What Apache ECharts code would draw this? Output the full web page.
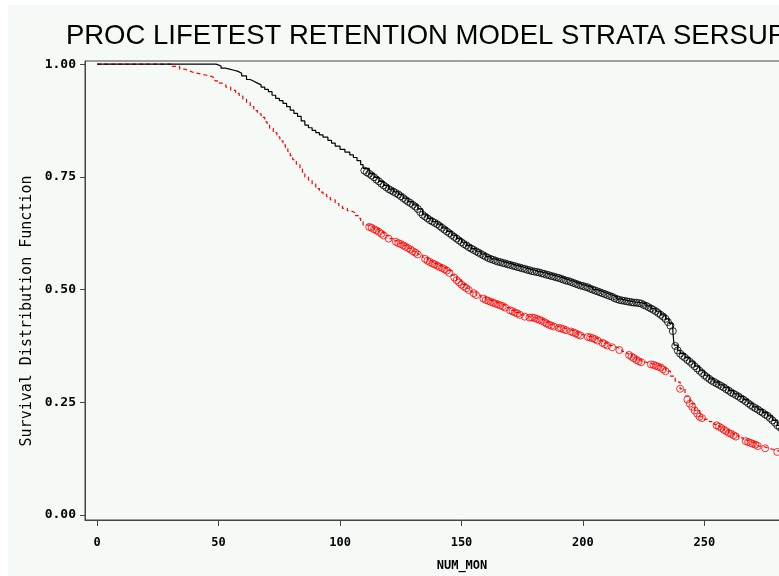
<!DOCTYPE html>
<html>
<head>
<meta charset="utf-8">
<script src="https://cdn.jsdelivr.net/npm/echarts@6/dist/echarts.min.js"></script>
<style>
html,body{margin:0;padding:0;background:#ffffff;overflow:hidden;width:779px;height:576px;}
#chart{position:absolute;left:8px;top:5px;width:860px;height:571px;}
</style>
</head>
<body>
<div id="chart"></div>
<script>
// ---- data (months, survival) ----
const titleText = 'PROC LIFETEST RETENTION MODEL STRATA SERSUP';
const xName = 'NUM_MON';
const yName = 'Survival Distribution Function';
const xTicks = [0, 50, 100, 150, 200, 250, 300];
const yTicks = [0, 0.25, 0.5, 0.75, 1];

// stratum 1 (black) step curve
const blackSteps = [
[0,1],[47,1],[49,.996],[51,.991],[53,.989],[54.5,.987],[56,.984],[58,.980],[59.5,.974],[61.5,.966],[63,.962],
[64.5,.958],[66,.954],[67.5,.949],[69,.944],[70.5,.939],[72,.931],[73.5,.924],[75,.919],[76.5,.913],[78,.906],
[79.5,.898],[81,.891],[82.5,.884],[84,.874],[85.5,.865],[87,.859],[88.5,.853],[90,.848],[91.5,.843],[93,.838],
[95,.831],[96.5,.825],[98,.818],[100,.811],[102,.805],[104,.799],[105.5,.793],[107,.786],[108.5,.777],[109.5,.769],
[112,.757],[114,.749],[116,.740],[118,.731],[120,.723],[122,.717],[124,.711],
[126,.703],[128,.695],[130,.688],[132,.679],[134,.666],[136,.658],[138,.651],[140,.645],[142,.637],
[144,.629],[146,.621],[148,.613],[150,.605],[152,.598],[154,.591],[156,.585],[158,.579],[160,.573],
[162,.568],[164,.564],[166,.561],[168,.558],[170,.555],[172,.552],[174,.549],[176,.546],[178,.543],
[180,.540],[182,.538],[184,.535],[186,.532],[188,.529],[190,.526],[192,.522],[194,.519],[196,.515],
[198,.511],[200,.508],[202,.505],[204,.500],[206,.496],[208,.492],[210,.488],[212,.484],[214,.479],
[216,.476],[218,.474],[220,.472],[222,.471],[224,.469],[226,.464],[228,.458],[230,.452],[232,.444],
[234,.435],[235.5,.425],[237,.408],[237.5,.377],[239,.365],[240,.358],[242,.349],[244,.340],[246,.330],
[248,.320],[250,.310],[252,.302],[254,.295],[256,.289],[258,.283],[260,.276],[262,.269],[264,.263],
[266,.256],[268,.248],[270,.240],[272,.234],[274,.227],[276,.220],[278,.210],[280,.199],[282,.190]
];
// stratum 1 (black) censored observations
const blackCensored = [
[110,.764],[111,.760],[112,.757],[113,.753],[114,.749],[115,.744],[116,.740],[117,.735],[118,.731],[119,.727],
[120,.723],[121,.720],[122,.717],[123,.714],[124,.711],[125,.707],[126,.703],[127,.699],[128,.695],[129,.692],
[130,.688],[131,.684],[132,.679],[133,.672],[134,.666],[135,.662],[136,.658],[137,.654],[138,.651],[139,.648],
[140,.645],[141,.641],[142,.637],[143,.633],[144,.629],[145,.625],[146,.621],[147,.617],[148,.613],[149,.609],
[150,.605],[151,.601],[152,.598],[153,.594],[154,.591],[155,.588],[156,.585],[157,.582],[158,.579],[159,.576],
[160,.573],[161,.570],[162,.568],[163,.566],[164,.564],[165,.562],[166,.561],[167,.559],[168,.558],[169,.556],
[170,.555],[171,.553],[172,.552],[173,.550],[174,.549],[175,.547],[176,.546],[177,.544],[178,.543],[179,.541],
[180,.540],[181,.539],[182,.538],[183,.536],[184,.535],[185,.533],[186,.532],[187,.530],[188,.529],[189,.527],
[190,.526],[191,.524],[192,.522],[193,.520],[194,.519],[195,.517],[196,.515],[197,.513],[198,.511],[199,.509],
[200,.508],[201,.506],[202,.505],[203,.502],[204,.500],[205,.498],[206,.496],[207,.494],[208,.492],[209,.490],
[210,.488],[211,.486],[212,.484],[213,.481],[214,.479],[215,.477],[216,.476],[217,.475],[218,.474],[219,.473],
[220,.472],[221,.471],[222,.471],[223,.470],[224,.469],[225,.466],[226,.464],[227,.461],[228,.458],[229,.455],
[230,.452],[231,.448],[232,.444],[233,.440],[234,.435],[235,.428],[236,.420],[237,.408],[238,.375],[239,.365],
[240,.358],[241,.353],[242,.349],[243,.344],[244,.340],[245,.335],[246,.330],[247,.325],[248,.320],[249,.315],
[250,.310],[251,.306],[252,.302],[253,.298],[254,.295],[255,.292],[256,.289],[257,.286],[258,.283],[259,.279],
[260,.276],[261,.272],[262,.269],[263,.266],[264,.263],[265,.259],[266,.256],[267,.252],[268,.248],[269,.244],
[270,.240],[271,.237],[272,.234],[273,.230],[274,.227],[275,.223],[276,.220],[277,.215],[278,.210],[279,.205],
[280,.199],[281,.195],[282,.190]
];

// stratum 2 (red) step curve
const redSteps = [
[0,1],[29,1],[31,.995],[34,.989],[36,.985],[38,.981],[40,.979],[42,.976],[44.5,.973],[47,.969],[48.5,.963],
[50,.958],[51.5,.954],[53,.949],[55,.942],[57,.935],[58.5,.929],[60,.922],[61.5,.915],[63,.906],[64.5,.897],
[66,.890],[67.5,.882],[69,.872],[70,.865],[71,.858],[72.5,.848],[74,.839],[75.2,.830],[76.5,.821],[77.5,.813],
[78.5,.806],[79.5,.797],[80.5,.788],[82,.778],[83.5,.769],[84.5,.760],[85.5,.750],[87,.743],[88.5,.734],
[90,.724],[91.5,.716],[93,.711],[94.5,.706],[96,.699],[98,.691],[99.5,.686],[101,.680],[103,.675],[104.5,.671],
[106,.664],[107.5,.658],[108.5,.651],[109.5,.643],[112,.639],
[114,.634],[116,.628],[118,.620],[120,.613],[122,.608],[124,.603],[126,.598],[128,.592],[130,.585],[132,.578],
[134,.571],[136,.564],[138,.558],[140,.553],[142,.548],[144,.542],[146,.532],[148,.521],[150,.511],[152,.503],
[154,.495],[156,.488],[158,.482],[160,.477],[162,.473],[164,.469],[166,.465],[168,.460],[170,.454],[172,.449],
[174,.444],[176,.440],[178,.438],[180,.437],[182,.433],[184,.428],[186,.422],[188,.418],[190,.415],[192,.412],
[194,.409],[196,.405],[198,.400],[200,.397],[202,.395],[204,.392],[206,.387],[208,.382],[210,.376],[212,.372],
[214,.368],[216,.363],[218,.358],[220,.351],[222,.344],[224,.339],[226,.336],[228,.334],[230,.331],[232,.327],
[234,.319],[236,.308],[238,.295],[240,.280],[242,.264],[244,.247],[246,.232],[248,.218],[250,.212],[252,.207],
[254,.201],[256,.196],[258,.189],[260,.182],[262,.177],[264,.171],[266,.166],[268,.162],[270,.158],[272,.153],
[274,.149],[276,.146],[278,.143],[280,.140],[282,.137]
];
// stratum 2 (red) censored observations
const redCensored = [
[112,.639],[113,.637],[114,.634],[115,.631],[116,.628],[117,.624],[118,.620],[120,.613],
[123,.606],[124,.603],[125,.601],[126,.598],[127,.595],[128,.592],[129,.589],[130,.585],[131,.582],[132,.578],
[135,.568],[136,.564],[137,.561],[138,.558],[139,.556],[140,.553],[141,.550],[142,.548],[143,.545],[144,.542],[145,.537],
[147,.527],[148,.521],[149,.516],[150,.511],[151,.507],[152,.503],[153,.499],
[155,.492],[156,.488],
[159,.480],[160,.477],[161,.475],[162,.473],[163,.471],[164,.469],[165,.467],[166,.465],[167,.463],[168,.460],
[170,.454],[171,.452],[172,.449],[173,.447],[174,.444],[176,.440],
[178,.438],[179,.438],[180,.437],[181,.435],[182,.433],[183,.431],[184,.428],[185,.425],[186,.422],[187,.420],
[188,.418],[190,.415],[191,.414],[192,.412],[193,.410],
[195,.407],[196,.405],[197,.403],[198,.400],[199,.398],
[202,.395],[203,.394],[204,.392],[205,.390],[206,.387],
[208,.382],[209,.379],[210,.376],[212,.372],[215,.366],
[219,.355],[220,.351],[221,.348],[222,.344],[223,.341],[224,.339],
[228,.334],[229,.333],[230,.331],[231,.329],[232,.327],[233,.323],[234,.319],
[240,.280],
[243,.256],[244,.247],[245,.240],[246,.232],[247,.225],[248,.218],[249,.215],
[255,.199],[256,.196],[257,.193],[258,.189],[259,.186],[260,.182],[261,.180],[262,.177],[263,.174],
[267,.164],[268,.162],[269,.160],[270,.158],[271,.156],[272,.153],
[275,.148],[280,.140]
];

const chart = echarts.init(document.getElementById('chart'), null, {renderer: 'canvas'});
const monoFont = '"DejaVu Sans Mono", "Liberation Mono", monospace';
const axisColor = '#444444';

chart.setOption({
  animation: false,
  backgroundColor: '#f5faf7',
  grid: {left: 77, top: 56, width: 753, height: 459, show: true, borderColor: axisColor, borderWidth: 1, backgroundColor: 'transparent'},
  xAxis: {
    type: 'value', min: -5, max: 305,
    axisLine: {show: true, onZero: false, lineStyle: {color: axisColor, width: 1}},
    axisTick: {show: true, inside: false, length: 6, customValues: xTicks, lineStyle: {color: axisColor}},
    axisLabel: {show: true, customValues: xTicks, margin: 17, color: '#000', fontFamily: monoFont, fontWeight: 'bold', fontSize: 12},
    splitLine: {show: false}
  },
  yAxis: {
    type: 'value', min: -0.011, max: 1.007,
    axisLine: {show: true, onZero: false, lineStyle: {color: axisColor, width: 1}},
    axisTick: {show: true, inside: false, length: 5, customValues: yTicks, lineStyle: {color: axisColor}},
    axisLabel: {show: true, customValues: yTicks, margin: 9, color: '#000', fontFamily: monoFont, fontWeight: 'bold', fontSize: 13,
      formatter: v => v.toFixed(2)},
    splitLine: {show: false}
  },
  graphic: [
    {type: 'text', x: 418, y: 17, style: {text: titleText, fill: '#000', fontFamily: '"Liberation Sans", Arial, sans-serif', fontSize: 27.5, align: 'center', verticalAlign: 'top'}},
    {type: 'text', x: 19, y: 306, rotation: Math.PI / 2, style: {text: yName, fill: '#000', fontFamily: monoFont, fontSize: 15, align: 'center', verticalAlign: 'middle'}},
    {type: 'text', x: 454, y: 561, style: {text: xName, fill: '#000', fontFamily: monoFont, fontWeight: 'bold', fontSize: 12, align: 'center', verticalAlign: 'middle'}}
  ],
  series: [
    {type: 'line', data: redSteps, step: 'end', showSymbol: false, clip: true,
      lineStyle: {color: '#ff0000', width: 1.2, type: [4, 3]}, z: 2},
    {type: 'line', data: blackSteps, step: 'end', showSymbol: false, clip: true,
      lineStyle: {color: '#000000', width: 1.2}, z: 2},
    {type: 'scatter', data: redCensored, symbol: 'circle', symbolSize: 7, clip: true,
      itemStyle: {color: 'rgba(0,0,0,0)', borderColor: '#ff0000', borderWidth: 1}, z: 3},
    {type: 'scatter', data: blackCensored, symbol: 'circle', symbolSize: 7, clip: true,
      itemStyle: {color: 'rgba(0,0,0,0)', borderColor: '#000000', borderWidth: 1}, z: 3}
  ]
});
</script>
</body>
</html>
